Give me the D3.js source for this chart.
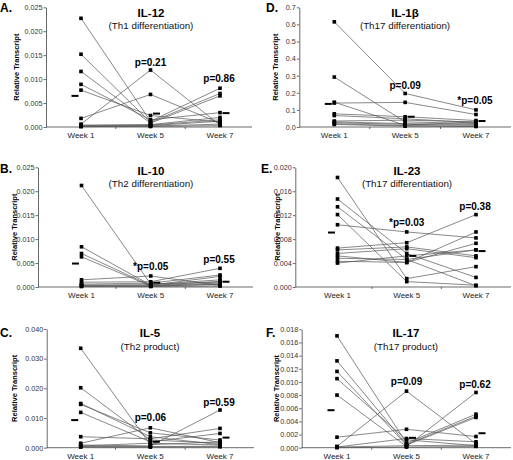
<!DOCTYPE html>
<html><head><meta charset="utf-8">
<script src="https://cdnjs.cloudflare.com/ajax/libs/d3/7.8.5/d3.min.js"></script>
<style>
html,body{margin:0;padding:0;background:#fff;}
svg{display:block;font-family:"Liberation Sans",Arial,sans-serif;}
</style></head>
<body>
<svg id="chart" width="513" height="460"></svg>
<script>
// ---------- data ----------
const weeks = ["Week 1", "Week 5", "Week 7"];

// each row = one subject: [Week 1, Week 5, Week 7]
const il12 = [
  [0.0227, 0.0012, 0.0081], [0.0152, 0.0010, 0.0070], [0.0116, 0.0008, 0.0065],
  [0.0089, 0.0015, 0.0030], [0.0077, 0.0024, 0.0010], [0.0018, 0.0068, 0.0008],
  [0.0006, 0.0119, 0.0004], [0.0004, 0.0005, 0.0020], [0.0003, 0.0004, 0.0015],
  [0.0002, 0.0003, 0.0012], [0.0001, 0.0002, 0.0006], [0.0001, 0.0001, 0.0003]
];
const il12Median = [0.0065, 0.0028, 0.0029];

const il1b = [
  [0.615, 0.196, 0.100], [0.140, 0.144, 0.073], [0.292, 0.030, 0.020],
  [0.145, 0.010, 0.030], [0.077, 0.060, 0.038], [0.067, 0.048, 0.025],
  [0.035, 0.040, 0.030], [0.030, 0.020, 0.015], [0.025, 0.015, 0.010],
  [0.019, 0.008, 0.005], [0.015, 0.005, 0.003]
];
const il1bMedian = [0.135, 0.060, 0.035];

const il10 = [
  [0.0212, 0.0006, 0.0010], [0.0084, 0.0004, 0.0022], [0.0070, 0.0003, 0.0008],
  [0.0063, 0.0002, 0.0005], [0.0015, 0.0023, 0.0003], [0.0010, 0.0011, 0.0039],
  [0.0006, 0.0008, 0.0025], [0.0004, 0.0005, 0.0015], [0.0003, 0.0003, 0.0012],
  [0.0002, 0.0002, 0.0006], [0.0001, 0.0001, 0.0002]
];
const il10Median = [0.0049, 0.0009, 0.0011];

const il23 = [
  [0.0183, 0.0014, 0.0034], [0.0147, 0.0056, 0.0016], [0.0134, 0.0046, 0.0002],
  [0.0121, 0.0009, 0.0003], [0.0104, 0.0092, 0.0082], [0.0065, 0.0074, 0.0121],
  [0.0062, 0.0067, 0.0052], [0.0056, 0.0064, 0.0049], [0.0052, 0.0041, 0.0073],
  [0.0048, 0.0046, 0.0062], [0.0043, 0.0041, 0.0092], [0.0040, 0.0052, 0.0062]
];
const il23Median = [0.0091, 0.0052, 0.0060];

const il5 = [
  [0.0335, 0.0010, 0.0020], [0.0202, 0.0026, 0.0015], [0.0149, 0.0037, 0.0010],
  [0.0146, 0.0050, 0.0026], [0.0119, 0.0020, 0.0048], [0.0037, 0.0030, 0.0065],
  [0.0015, 0.0067, 0.0017], [0.0009, 0.0006, 0.0127], [0.0006, 0.0015, 0.0009],
  [0.0004, 0.0004, 0.0005], [0.0002, 0.0002, 0.0003]
];
const il5Median = [0.0093, 0.0020, 0.0034];

const il17 = [
  [0.0170, 0.0007, 0.0051], [0.0132, 0.0005, 0.0048], [0.0116, 0.0004, 0.0046],
  [0.0105, 0.0012, 0.0003], [0.0080, 0.0002, 0.0084], [0.0016, 0.0028, 0.0017],
  [0.0002, 0.0086, 0.0006], [0.0001, 0.0014, 0.0009], [0.0001, 0.0003, 0.0004],
  [0.0000, 0.0001, 0.0002]
];
const il17Median = [0.0057, 0.0015, 0.0022];

const letters   = ["A.", "B.", "C.", "D.", "E.", "F."];
const titles    = ["IL-12", "IL-10", "IL-5", "IL-1β", "IL-23", "IL-17"];
const subtitles = ["(Th1 differentiation)", "(Th2 differentiation)", "(Th2 product)",
                   "(Th17 differentiation)", "(Th17 differentiation)", "(Th17 product)"];
const yMax      = [0.025, 0.025, 0.040, 0.7, 0.020, 0.018];
const yStep     = [0.005, 0.005, 0.010, 0.1, 0.004, 0.002];
const yFormat   = [".3f", ".3f", ".3f", ".1f", ".3f", ".3f"];
const pWeek5    = ["p=0.21", "*p=0.05", "p=0.06", "p=0.09", "*p=0.03", "p=0.09"];
const pWeek7    = ["p=0.86", "p=0.55", "p=0.59", "*p=0.05", "p=0.38", "p=0.62"];
const yLabel    = "Relative Transcript";

const panelData   = [il12, il10, il5, il1b, il23, il17];
const panelMedian = [il12Median, il10Median, il5Median, il1bMedian, il23Median, il17Median];

// ---------- layout ----------
const layout = [
  {ax: 46,    x0: 81,    x1: 220, xEnd: 252, top: 7.3,   bot: 127,   letX: 0,   letY: 12,  tX: 151, tY: 17,  sY: 29,  ylX: 17,    p5Y: 66,  p7Y: 82},
  {ax: 38,    x0: 81.5,  x1: 220, xEnd: 253, top: 167.3, bot: 287,   letX: 0,   letY: 173, tX: 151, tY: 175, sY: 187, ylX: 15,    p5Y: 270, p7Y: 263},
  {ax: 46.7,  x0: 80.7,  x1: 220, xEnd: 254, top: 329,   bot: 447.7, letX: 0,   letY: 337, tX: 150, tY: 337, sY: 350, ylX: 15,    p5Y: 421, p7Y: 406},
  {ax: 299.3, x0: 334.3, x1: 476, xEnd: 511, top: 7.3,   bot: 127,   letX: 266, letY: 12,  tX: 405, tY: 17,  sY: 29,  ylX: 276.5, p5Y: 89,  p7Y: 104},
  {ax: 295.3, x0: 337.5, x1: 476, xEnd: 511, top: 167.3, bot: 287,   letX: 261, letY: 173, tX: 407, tY: 175, sY: 187, ylX: 277.7, p5Y: 226, p7Y: 210},
  {ax: 301.7, x0: 337,   x1: 476, xEnd: 511, top: 329.3, bot: 447.7, letX: 266, letY: 337, tX: 406, tY: 337, sY: 350, ylX: 276.7, p5Y: 385, p7Y: 388}
];

const svg = d3.select("#chart");

layout.forEach((L, i) => {
  const g = svg.append("g");
  const x = d3.scalePoint().domain(weeks).range([L.x0, L.x1]);
  const y = d3.scaleLinear().domain([0, yMax[i]]).range([L.bot, L.top]);
  const data = panelData[i];
  const med = panelMedian[i];

  // y axis
  const ticks = d3.range(0, yMax[i] + yStep[i] / 2, yStep[i]);
  const yAxis = d3.axisLeft(y).tickValues(ticks).tickFormat(d3.format(yFormat[i]))
    .tickSizeInner(2.5).tickSizeOuter(0).tickPadding(1);
  const ya = g.append("g").attr("transform", `translate(${L.ax},0)`).call(yAxis);
  ya.select(".domain").attr("stroke", "#444").attr("stroke-width", 0.8);
  ya.selectAll(".tick line").attr("stroke", "#444").attr("stroke-width", 0.8);
  ya.selectAll(".tick text").attr("font-size", 7.2).attr("fill", "#333")
    .attr("font-family", "Liberation Sans, Arial, sans-serif");

  // x axis line
  g.append("line").attr("x1", L.ax).attr("x2", L.xEnd).attr("y1", L.bot).attr("y2", L.bot)
    .attr("stroke", "#444").attr("stroke-width", 0.8);
  // boundary ticks between categories
  const step = x.step();
  [0, 1].forEach(k => {
    const bx = x(weeks[k]) + step / 2;
    g.append("line").attr("x1", bx).attr("x2", bx).attr("y1", L.bot).attr("y2", L.bot + 2)
      .attr("stroke", "#444").attr("stroke-width", 0.8);
  });
  // x tick labels
  weeks.forEach(w => {
    g.append("text").attr("x", x(w)).attr("y", L.bot + 11).attr("text-anchor", "middle")
      .attr("font-size", 8).attr("fill", "#222").text(w);
  });

  // subject lines
  const line = d3.line().x((d, k) => x(weeks[k])).y(d => y(d));
  g.selectAll("path.subj").data(data).join("path").attr("class", "subj")
    .attr("d", d => line(d)).attr("fill", "none").attr("stroke", "#555").attr("stroke-width", 0.7);

  // points
  const sz = 3.6;
  data.forEach(row => {
    row.forEach((v, k) => {
      g.append("rect").attr("x", x(weeks[k]) - sz / 2).attr("y", y(v) - sz / 2)
        .attr("width", sz).attr("height", sz).attr("fill", "#000");
    });
  });

  // median bars
  med.forEach((m, k) => {
    const cx = x(weeks[k]) + (k === 0 ? -6 : 6);
    g.append("rect").attr("x", cx - 3.5).attr("y", y(m) - 1).attr("width", 7).attr("height", 2)
      .attr("fill", "#000");
  });

  // texts
  g.append("text").attr("x", L.letX).attr("y", L.letY).attr("font-size", 12)
    .attr("font-weight", "bold").attr("fill", "#000").text(letters[i]);
  g.append("text").attr("x", L.tX).attr("y", L.tY).attr("text-anchor", "middle")
    .attr("font-size", 11.5).attr("font-weight", "bold").attr("fill", "#000").text(titles[i]);
  g.append("text").attr("x", L.tX).attr("y", L.sY).attr("text-anchor", "middle")
    .attr("font-size", 9.8).attr("fill", "#111").text(subtitles[i]);
  g.append("text").attr("transform", `translate(${L.ylX},${(L.top + L.bot) / 2}) rotate(-90)`)
    .attr("text-anchor", "middle").attr("dominant-baseline", "middle")
    .attr("font-size", 7.5).attr("font-weight", "bold").attr("fill", "#000").text(yLabel);
  g.append("text").attr("x", x(weeks[1])).attr("y", L.p5Y).attr("text-anchor", "middle")
    .attr("font-size", 10).attr("font-weight", "bold").attr("fill", "#000").text(pWeek5[i]);
  g.append("text").attr("x", x(weeks[2]) - 1).attr("y", L.p7Y).attr("text-anchor", "middle")
    .attr("font-size", 10).attr("font-weight", "bold").attr("fill", "#000").text(pWeek7[i]);
});
</script>
</body></html>
